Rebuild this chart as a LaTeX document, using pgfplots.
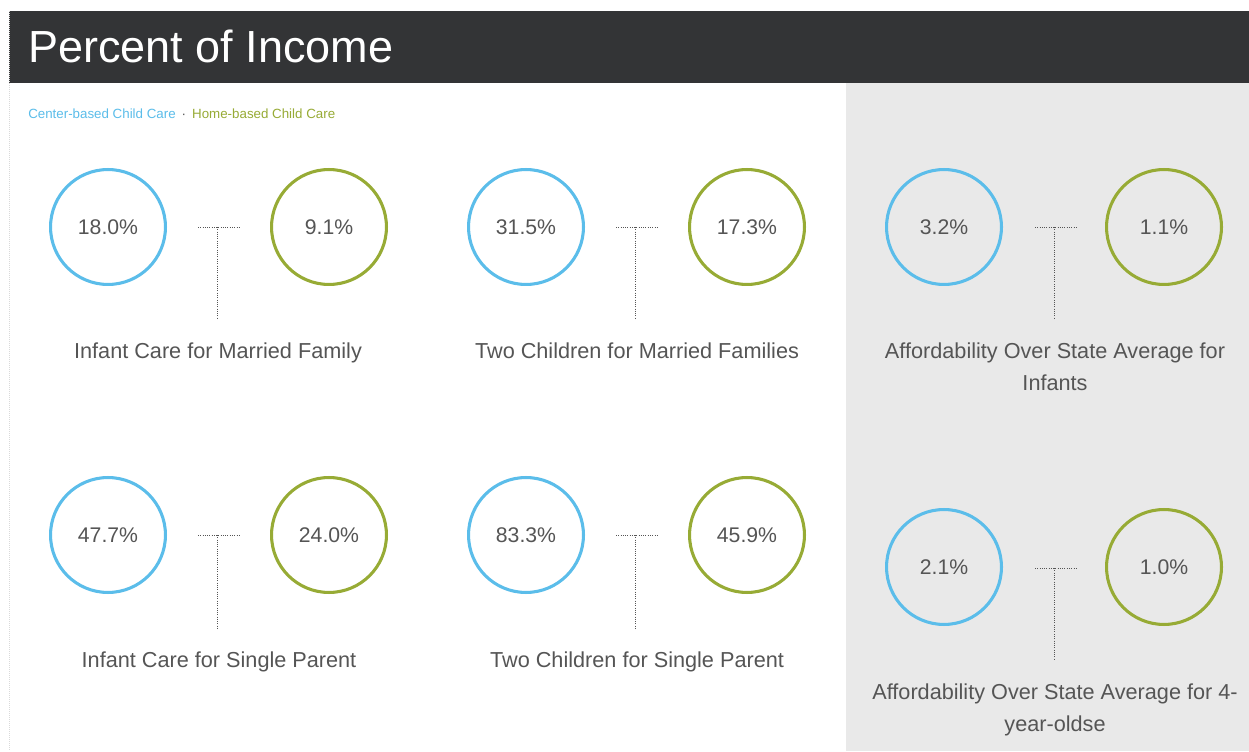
\documentclass[border=0pt]{standalone}
\usepackage{pgfplots}
\pgfplotsset{compat=1.18}
\usepackage{fontspec}
\setmainfont{Liberation Sans}
\definecolor{cblue}{HTML}{5BBDEA}
\definecolor{colive}{HTML}{97AB35}
\definecolor{hdr}{HTML}{333436}
\definecolor{panel}{HTML}{E9E9E9}
\definecolor{txt}{HTML}{555555}
\pgfplotstableread{
x y v
108 227 18.0
526 227 31.5
944 227 3.2
108 535 47.7
526 535 83.3
944 567 2.1
}\centerdata
\pgfplotstableread{
x y v
329 227 9.1
747 227 17.3
1164 227 1.1
329 535 24.0
747 535 45.9
1164 567 1.0
}\homedata
\begin{document}
\begin{tikzpicture}
\begin{axis}[x=0.75pt,y=0.75pt,y dir=reverse,
  xmin=0,xmax=1249,ymin=0,ymax=751,
  hide axis, clip=false,
  /pgf/number format/assume math mode=true,
  unbounded coords=jump]
\fill[white] (axis cs:0,0) rectangle (axis cs:1249,751);
\fill[panel] (axis cs:846,83) rectangle (axis cs:1249,751);
\fill[hdr] (axis cs:9,11) rectangle (axis cs:1249,83);
\draw[densely dotted, gray!30, line width=0.5pt] (axis cs:9,11) -- (axis cs:9,751);
\node[anchor=base west, text=white, font=\fontsize{33.75}{40}\selectfont, inner sep=0pt] at (axis cs:28,63) {Percent of Income};
\node[anchor=base west, font=\fontsize{10}{12}\selectfont, inner sep=0pt] at (axis cs:28,119)
  {\textcolor{cblue}{Center-based Child Care}\hspace{4.5pt}\textcolor{txt}{·}\hspace{4.5pt}\textcolor{colive}{Home-based Child Care}};
% connectors
\addplot[densely dotted, color=txt, line width=0.7pt] coordinates {
(198,227) (239,227) (nan,nan) (217,227) (217,319) (nan,nan)
(616,227) (657,227) (nan,nan) (635,227) (635,319) (nan,nan)
(1035,227) (1076,227) (nan,nan) (1054,227) (1054,319) (nan,nan)
(198,535) (239,535) (nan,nan) (217,535) (217,628) (nan,nan)
(616,535) (657,535) (nan,nan) (635,535) (635,628) (nan,nan)
(1035,568) (1076,568) (nan,nan) (1054,568) (1054,660)
};
\addplot[only marks, mark=o, mark size=43.1pt,
  mark options={draw=cblue, line width=2.3pt},
  point meta=explicit,
  nodes near coords={\pgfmathprintnumber[fixed,fixed zerofill,precision=1]{\pgfplotspointmeta}\%},
  every node near coord/.append style={anchor=center, text=txt, font=\fontsize{15.9}{18}\selectfont}]
  table[x=x,y=y,meta=v] {\centerdata};
\addplot[only marks, mark=o, mark size=43.1pt,
  mark options={draw=colive, line width=2.3pt},
  point meta=explicit,
  nodes near coords={\pgfmathprintnumber[fixed,fixed zerofill,precision=1]{\pgfplotspointmeta}\%},
  every node near coord/.append style={anchor=center, text=txt, font=\fontsize{15.9}{18}\selectfont}]
  table[x=x,y=y,meta=v] {\homedata};
% labels
\tikzset{lbl/.style={anchor=base, text=txt, font=\fontsize{16.25}{18}\selectfont, inner sep=0pt}}
\node[lbl] at (axis cs:218,359) {Infant Care for Married Family};
\node[lbl] at (axis cs:637,359) {Two Children for Married Families};
\node[lbl] at (axis cs:1055,359) {Affordability Over State Average for};
\node[lbl] at (axis cs:1055,391) {Infants};
\node[lbl] at (axis cs:219,667) {Infant Care for Single Parent};
\node[lbl] at (axis cs:637,667) {Two Children for Single Parent};
\node[lbl] at (axis cs:1055,699) {Affordability Over State Average for 4-};
\node[lbl] at (axis cs:1055,731) {year-oldse};
\end{axis}
\end{tikzpicture}
\end{document}
